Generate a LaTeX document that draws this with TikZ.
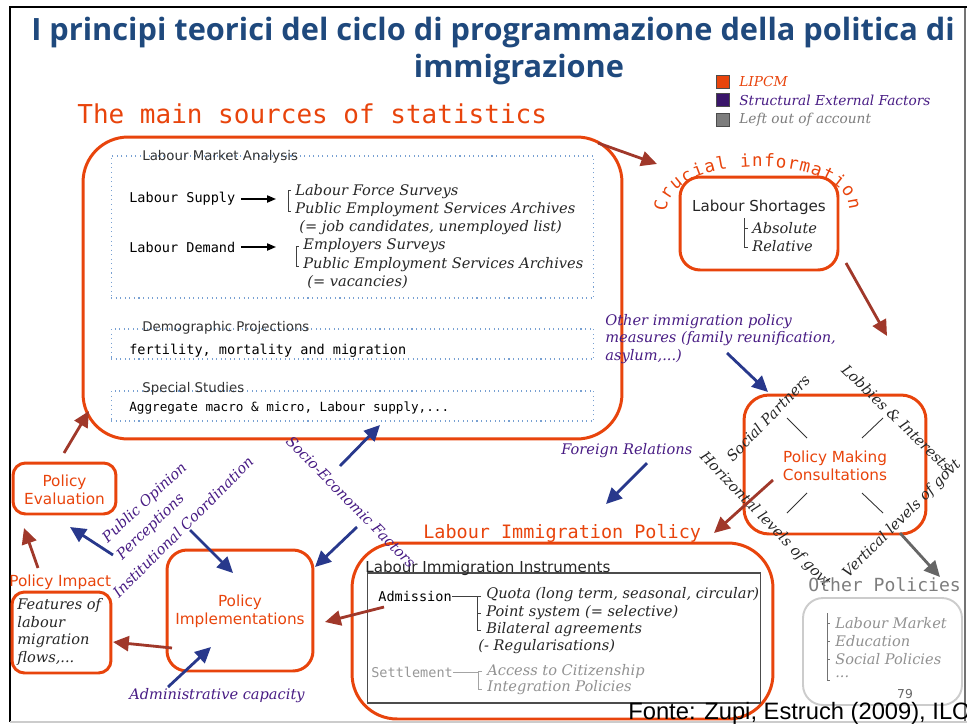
\documentclass[tikz,border=0pt]{standalone}
\usepackage{fontspec}
\setmainfont{DejaVu Serif}
\setsansfont{DejaVu Sans}
\setmonofont{DejaVu Sans Mono}
\newfontfamily\titlefont{Open Sans}
\newfontfamily\fontefont{Liberation Sans}
\usepackage{xcolor}
\usepackage{tikz}
\usetikzlibrary{arrows.meta,positioning,calc,decorations.text}

\definecolor{lipcm}{RGB}{232,68,12}
\definecolor{darkarrow}{RGB}{160,56,42}
\definecolor{bluearrow}{RGB}{40,56,140}
\definecolor{factor}{RGB}{72,28,132}
\definecolor{titleblue}{RGB}{31,73,125}
\definecolor{leftout}{RGB}{125,125,125}
\definecolor{dotblue}{RGB}{120,160,210}

\tikzset{
  lipbox/.style={draw=lipcm, line width=1.7pt, inner sep=0pt},
  srcbox/.style={draw=dotblue, dotted, line width=0.6pt, inner sep=0pt, minimum width=9.66cm},
  redarr/.style={-{Triangle[length=9pt,width=8.5pt]}, draw=darkarrow, line width=1.6pt},
  bluearr/.style={-{Triangle[length=9pt,width=8.5pt]}, draw=bluearrow, line width=1.6pt},
  greyarr/.style={-{Triangle[length=9pt,width=8.5pt]}, draw=black!60, line width=1.6pt},
  blackarr/.style={-{Triangle[length=5pt,width=4pt]}, line width=0.9pt},
  bracket/.style={draw=black!75, line width=0.5pt},
  titletext/.style={font=\titlefont\bfseries\fontsize{17.5}{20}\selectfont, text=titleblue, inner sep=0pt},
  headtext/.style={font=\ttfamily\fontsize{14.8}{16}\selectfont, text=lipcm, inner sep=0pt},
  monotext/.style={font=\ttfamily\fontsize{7.7}{9}\selectfont, inner sep=0pt},
  boxtitle/.style={font=\sffamily\fontsize{7.6}{9}\selectfont, text=black!80, inner sep=0pt},
  plaintext/.style={font=\sffamily\fontsize{8.6}{10}\selectfont, text=black!85, inner sep=0pt},
  boxlabel/.style={font=\sffamily\fontsize{8.7}{10.2}\selectfont, text=lipcm, align=center, inner sep=0pt},
  itemtext/.style={font=\itshape\fontsize{8.3}{10.2}\selectfont, text=black!85, inner sep=0pt},
  factortext/.style={font=\itshape\fontsize{8.3}{10.2}\selectfont, text=factor, inner sep=0pt},
  greytext/.style={font=\itshape\fontsize{8.3}{10.2}\selectfont, text=leftout!85, inner sep=0pt},
  legsq/.style={draw=black!70, line width=0.4pt, minimum size=0.27cm, inner sep=0pt},
  legtext/.style={font=\itshape\fontsize{7.8}{9}\selectfont, inner sep=0pt, anchor=west},
}

\begin{document}
\begin{tikzpicture}[x=0.02cm,y=0.02cm]
\useasboundingbox (0,0) rectangle (967,-724);
\draw[line width=1.1pt] (10,-722) -- (10,-7) -- (967,-7);
\draw[black!55,line width=0.6pt] (965,-8) -- (965,-722);
\draw[black!20,line width=0.6pt] (10,-722) -- (967,-722);

\node[titletext] (title1) at (493,-33) {I principi teorici del ciclo di programmazione della politica di};
\node[titletext] (title2) at (519,-70) {immigrazione};

\node[legsq, fill=lipcm] (sqlip) at (723,-82) {};
\node[legsq, fill=factor!80!black] (sqfac) at (723,-100) {};
\node[legsq, fill=leftout] (sqleft) at (723,-120) {};
\node[legtext, text=lipcm] (leglip) at (739,-82) {LIPCM};
\node[legtext, text=factor] (legfac) at (739,-100) {Structural External Factors};
\node[legtext, text=leftout] (legleft) at (739,-120) {Left out of account};

% main sources of statistics
\node[headtext, anchor=base west] (mainsrc) at (77,-123) {The main sources of statistics};
\node[lipbox, rounded corners=0.9cm, minimum width=10.78cm, minimum height=6.04cm] (sources) at (352.5,-288) {};
\node[srcbox, minimum height=2.84cm] (lma) at (352.5,-227) {};
\node[srcbox, minimum height=0.6cm] (demo) at (352.5,-344) {};
\node[srcbox, minimum height=0.6cm] (special) at (352.5,-406) {};
\node[boxtitle, anchor=west] (lmatitle) at (142,-157) {Labour Market Analysis};
\node[boxtitle, anchor=west] (demotitle) at (142,-328) {Demographic Projections};
\node[boxtitle, anchor=west] (spectitle) at (142,-389) {Special Studies};

\node[monotext, anchor=west] (lsupply) at (129,-199) {Labour Supply};
\node[monotext, anchor=west] (ldemand) at (129,-247) {Labour Demand};
\coordinate (supbr) at (276,-199);
\coordinate (dembr) at (276,-247);
\draw[blackarr, shorten <=3pt] (lsupply) -- (supbr);
\draw[blackarr, shorten <=3pt] (ldemand) -- (dembr);
\draw[bracket] (291,-190) -- (288,-190) -- (288,-211) -- (291,-211);
\node[itemtext, anchor=west] (lfs) at (295,-192) {Labour Force Surveys};
\node[itemtext, anchor=west] (pesa) at (295,-210) {Public Employment Services Archives};
\node[itemtext, anchor=west] (jobc) at (299,-228) {(= job candidates, unemployed list)};
\draw[bracket] (299,-246) -- (296,-246) -- (296,-266) -- (299,-266);
\node[itemtext, anchor=west] (empsurv) at (303,-246) {Employers Surveys};
\node[itemtext, anchor=west] (pesb) at (303,-265) {Public Employment Services Archives};
\node[itemtext, anchor=west] (vac) at (307,-282) {(= vacancies)};
\node[monotext, anchor=west] (demotext) at (129,-351) {fertility, mortality and migration};
\node[monotext, anchor=west, font=\ttfamily\fontsize{7.2}{9}\selectfont] (spectext) at (129,-408) {Aggregate macro \& micro, Labour supply,...};

% crucial information
\coordinate (srcout) at (598,-143);
\coordinate (crucin) at (657,-164);
\draw[redarr] (srcout) -- (crucin);
\path[decorate, decoration={text along path, text={|\ttfamily\fontsize{10}{11}\selectfont|Crucial information}, text align={fit to path}, text color=lipcm}]
    (667,-212) .. controls (665,-152) and (850,-152) .. (849,-210);
\node[lipbox, rounded corners=0.4cm, minimum width=3.16cm, minimum height=1.86cm] (shortbox) at (759,-223.5) {};
\node[plaintext] (shorttitle) at (759,-207) {Labour Shortages};
\draw[bracket] (744,-218) -- (744,-247) -- (748,-247) (744,-228) -- (748,-228);
\node[itemtext, anchor=west] (absolute) at (752,-228) {Absolute};
\node[itemtext, anchor=west] (relative) at (752,-246) {Relative};
\coordinate (shortout) at (846,-263);
\coordinate (pmin) at (887,-336);
\draw[redarr] (shortout) -- (pmin);

% policy making
\node[factortext, anchor=west, align=left] (othmeas) at (605,-339) {Other immigration policy\\measures (family reunification,\\asylum,...)};
\coordinate (othout) at (727,-353);
\coordinate (othin) at (768,-392);
\draw[bluearr] (othout) -- (othin);
\node[lipbox, rounded corners=0.5cm, minimum width=3.64cm, minimum height=2.78cm] (pmbox) at (835,-464.5) {};
\node[boxlabel] (pmlabel) at (835,-466) {Policy Making\\Consultations};
\draw[black!80, line width=0.5pt] (787,-418) -- (807,-438) (862,-438) -- (883,-418)
    (787,-513) -- (807,-493) (862,-493) -- (883,-513);
\node[itemtext, rotate=46] (social) at (768,-418) {Social Partners};
\node[itemtext, rotate=-44] (lobbies) at (897,-418) {Lobbies \& Interests};
\node[itemtext, rotate=-46] (horiz) at (765,-520) {Horizontal levels of govt};
\node[itemtext, rotate=45] (vert) at (902,-519) {Vertical levels of govt};
\coordinate (pmout) at (900,-533);
\coordinate (othpolin) at (940,-577);
\draw[greyarr] (pmout) -- (othpolin);

% other policies
\node[font=\ttfamily\fontsize{10.3}{12}\selectfont, text=leftout, inner sep=0pt, anchor=base west] (othpolhead) at (808,-591) {Other Policies};
\node[draw=black!20, line width=1.1pt, rounded corners=0.4cm, minimum width=3.18cm, minimum height=2.14cm] (othbox) at (882.5,-651.5) {};
\draw[bracket, draw=black!55] (827,-613) -- (827,-680) -- (830,-680) (827,-623) -- (830,-623) (827,-641) -- (830,-641) (827,-659) -- (830,-659);
\node[greytext, anchor=west] (olm) at (835,-623) {Labour Market};
\node[greytext, anchor=west] (oedu) at (835,-641) {Education};
\node[greytext, anchor=west] (osoc) at (835,-659) {Social Policies};
\node[greytext, anchor=west] (odots) at (835,-677) {...};
\node[font=\sffamily\fontsize{7}{8}\selectfont, text=black!60, inner sep=0pt] (pagenum) at (905,-694) {79};

% labour immigration policy
\node[factortext, anchor=west] (foreign) at (561,-451) {Foreign Relations};
\coordinate (forout) at (647,-463);
\coordinate (forin) at (606,-504);
\draw[bluearr] (forout) -- (forin);
\coordinate (pmtolip) at (773,-480);
\coordinate (lipin) at (714,-533);
\draw[redarr] (pmtolip) -- (lipin);
\node[font=\ttfamily\fontsize{10.5}{12}\selectfont, text=lipcm, inner sep=0pt, anchor=base west] (liphead) at (423,-538) {Labour Immigration Policy};
\node[lipbox, rounded corners=0.9cm, minimum width=8.42cm, minimum height=3.52cm] (lipbox) at (562.5,-631) {};
\node[draw=black!70, line width=0.6pt, minimum width=7.88cm, minimum height=2.6cm, inner sep=0pt] (instrbox) at (564,-638) {};
\node[plaintext, anchor=base west] (instrtitle) at (365,-572) {Labour Immigration Instruments};
\node[monotext, anchor=west] (admission) at (378,-596) {Admission};
\coordinate (admbr) at (477,-596);
\draw[bracket] (admission) -- (admbr);
\draw[bracket] (481,-596) -- (477,-596) -- (477,-630) -- (481,-630) (477,-613) -- (481,-613);
\node[itemtext, anchor=west] (quota) at (486,-595) {Quota (long term, seasonal, circular)};
\node[itemtext, anchor=west] (points) at (486,-613) {Point system (= selective)};
\node[itemtext, anchor=west] (bilat) at (486,-630) {Bilateral agreements};
\node[itemtext, anchor=west] (regul) at (478,-647) {(- Regularisations)};
\node[monotext, text=leftout!80, anchor=west] (settlement) at (371,-672) {Settlement};
\coordinate (setbr) at (478,-672);
\draw[bracket, draw=leftout!70] (settlement) -- (setbr);
\draw[bracket, draw=leftout!70] (482,-671) -- (478,-671) -- (478,-689) -- (482,-689);
\node[greytext, anchor=west] (citiz) at (487,-671) {Access to Citizenship};
\node[greytext, anchor=west] (integ) at (487,-688) {Integration Policies};
\coordinate (lipout) at (384,-607);
\coordinate (implin) at (325,-622);
\draw[redarr] (lipout) -- (implin);

% implementation, evaluation, impact
\node[lipbox, rounded corners=0.4cm, minimum width=2.92cm, minimum height=2.42cm] (implbox) at (240,-610.5) {};
\node[boxlabel] (impllabel) at (240,-611) {Policy\\Implementations};
\node[lipbox, rounded corners=0.25cm, minimum width=2.06cm, minimum height=1.02cm] (evalbox) at (64.5,-488.5) {};
\node[boxlabel] (evallabel) at (64.5,-489.5) {Policy\\Evaluation};
\node[boxlabel, anchor=west] (impact) at (9,-582) {Policy Impact};
\node[lipbox, rounded corners=0.25cm, minimum width=1.98cm, minimum height=1.62cm] (featbox) at (61.5,-632.5) {};
\node[itemtext, align=left, anchor=west] (feattext) at (17,-632) {Features of\\labour\\migration\\flows,...};

\node[factortext, rotate=-45.5] (socio) at (351,-502) {Socio-Economic Factors};
\node[factortext, rotate=45] (instit) at (183,-527) {Institutional Coordination};
\node[factortext, rotate=43] (pubop) at (145,-503) {Public Opinion};
\node[factortext, rotate=44] (percep) at (151,-527) {Perceptions};
\node[factortext, anchor=west] (admincap) at (129,-696) {Administrative capacity};

\coordinate (socout) at (340,-466);
\coordinate (socin) at (380,-425);
\draw[bluearr] (socout) -- (socin);
\coordinate (socout2) at (357,-527);
\coordinate (socin2) at (315,-567);
\draw[bluearr] (socout2) -- (socin2);
\coordinate (instout) at (190,-530);
\coordinate (instin) at (233,-573);
\draw[bluearr] (instout) -- (instin);
\coordinate (pubout) at (113,-555);
\coordinate (pubin) at (70,-527);
\draw[bluearr] (pubout) -- (pubin);
\coordinate (admout) at (168,-687);
\coordinate (admin) at (211,-647);
\draw[bluearr] (admout) -- (admin);
\coordinate (evalout) at (64,-453);
\coordinate (srcin) at (89,-411);
\draw[redarr] (evalout) -- (srcin);
\coordinate (impout) at (38,-568);
\coordinate (evalin) at (24,-528);
\draw[redarr] (impout) -- (evalin);
\coordinate (implout) at (172,-648);
\coordinate (featin) at (113,-642);
\draw[redarr] (implout) -- (featin);

\node[font=\fontefont\fontsize{13.5}{15}\selectfont, inner sep=0pt, anchor=base west] (fonte) at (628,-719) {Fonte: Zupi, Estruch (2009), ILO};
\end{tikzpicture}
\end{document}
